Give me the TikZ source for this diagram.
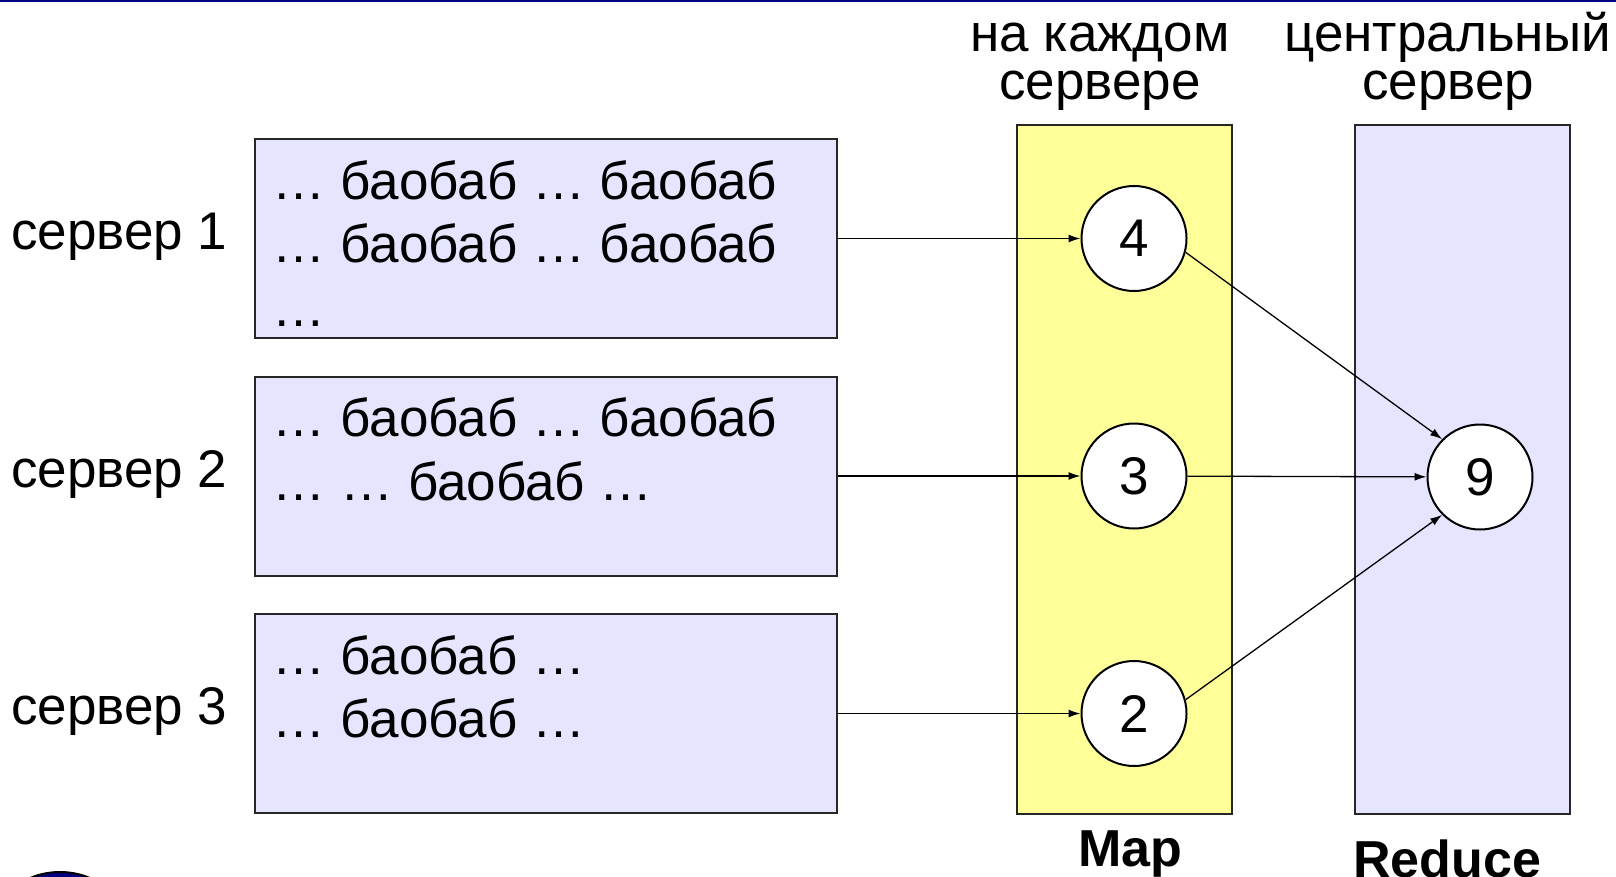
\documentclass[tikz,border=0pt]{standalone}
\usepackage{fontspec}
\setmainfont{Liberation Sans}
\usetikzlibrary{arrows.meta,positioning}
\definecolor{lavender}{RGB}{229,229,255}
\definecolor{mapyellow}{RGB}{255,255,153}
\definecolor{slidenavy}{RGB}{0,0,128}

\begin{document}
\begin{tikzpicture}[x=1pt,y=-1pt,
    txt/.style={inner sep=0pt,font=\fontsize{53}{63.5}\selectfont},
    head/.style={inner sep=0pt,align=center,font=\fontsize{53}{48}\selectfont},
    srvbox/.style={draw=black!85,line width=2pt,fill=lavender,minimum width=582pt,minimum height=199pt,inner sep=0pt},
    column/.style={draw=black!85,line width=2pt,minimum width=215pt,minimum height=689pt,inner sep=0pt},
    num/.style={circle,draw,line width=2pt,fill=white,minimum size=105pt,inner sep=0pt,font=\fontsize{53}{60}\selectfont},
    flow/.style={-{Latex[length=12pt,width=8pt]},line width=1.3pt}]
  \useasboundingbox (0,0) rectangle (1616,877);
  \begin{scope}
    \clip (0,0) rectangle (1616,877);
    \fill[slidenavy] (0,0) rectangle (1616,2.5);
    \draw[line width=2pt,fill=slidenavy] (60,949) circle (77pt);
  \end{scope}
  \node[column,fill=mapyellow] (mapcol) at (1124,469.4) {};
  \node[column,fill=lavender] (redcol) at (1462,469.4) {};
  \node[head,above=13.5pt of mapcol,xshift=-24pt] (maphead) {на каждом\\сервере};
  \node[head,above=13.5pt of redcol,xshift=-14pt] (redhead) {центральный\\сервер};
  \node[head,font=\fontsize{52}{52}\selectfont\bfseries,below=16pt of mapcol,xshift=6pt] (mapname) {Map};
  \node[head,font=\fontsize{52}{52}\selectfont\bfseries,below=25pt of redcol,xshift=-15pt] (redname) {Reduce};
  \node[num] (total) at (1480,477) {9};
  \foreach \i/\yy/\n/\words in {1/238.5/4/{… баобаб … баобаб\\… баобаб … баобаб\\…},
      2/476/3/{… баобаб … баобаб\\… … баобаб …},
      3/713.5/2/{… баобаб …\\… баобаб …}} {
    \node[srvbox] (srv\i) at (545.5,\yy) {};
    \node[txt,align=left,anchor=north west] (words\i) at ([shift={(19,16.5)}]srv\i.north west) {\strut\words};
    \node[txt,anchor=base east] (name\i) at ([shift={(-26,11)}]srv\i.west) {сервер \i};
    \node[num,right=243pt of srv\i] (m\i) {\n};
    \draw[flow] (srv\i) -- (m\i);
  }
  \draw[flow] (m1.-15) -- (total.135);
  \draw[flow] (m2) -- (total);
  \draw[flow] (m3.15) -- (total.-135);
\end{tikzpicture}
\end{document}
